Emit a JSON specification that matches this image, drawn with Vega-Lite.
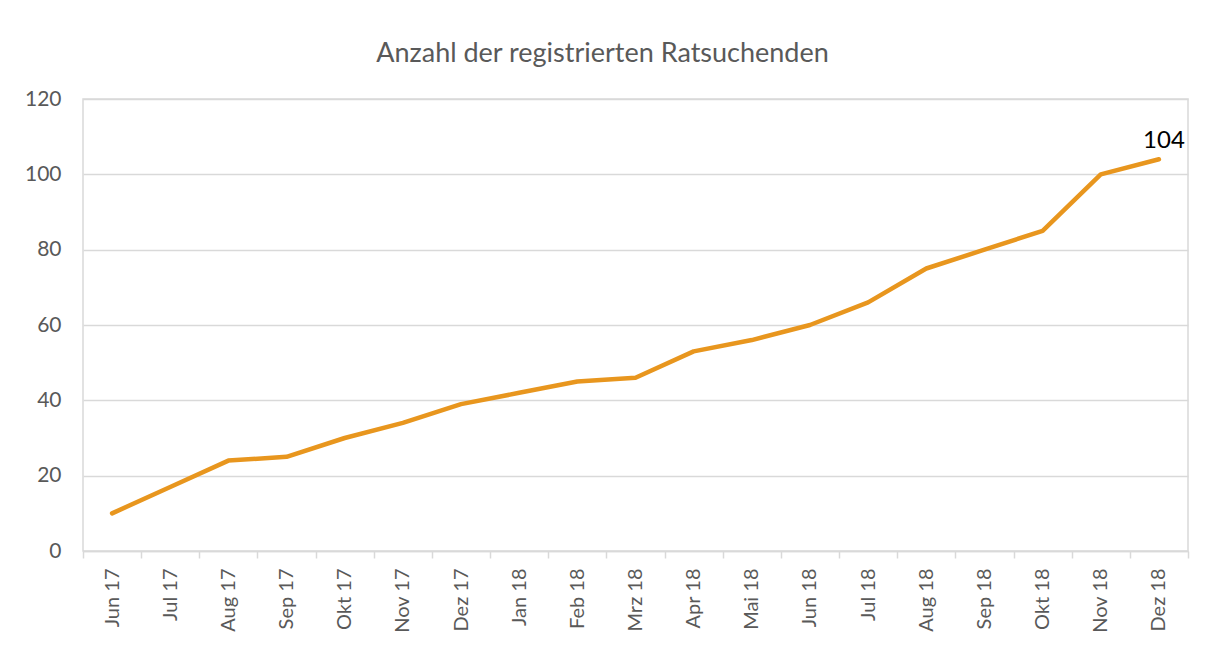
{
  "$schema": "https://vega.github.io/schema/vega-lite/v6.json",
  "autosize": "none",
  "width": 1105,
  "height": 452,
  "padding": {"left": 83, "top": 99, "right": 24, "bottom": 95},
  "background": "white",
  "title": {
    "text": "Anzahl der registrierten Ratsuchenden",
    "font": "Lato",
    "fontSize": 27,
    "fontWeight": "normal",
    "color": "#595959",
    "anchor": "middle",
    "dx": -33,
    "offset": 20
  },
  "config": {
    "view": {"stroke": "#d9d9d9", "strokeWidth": 1.5},
    "font": "Lato"
  },
  "data": {
    "values": [
      {"monat": "Jun 17", "anzahl": 10},
      {"monat": "Jul 17", "anzahl": 17},
      {"monat": "Aug 17", "anzahl": 24},
      {"monat": "Sep 17", "anzahl": 25},
      {"monat": "Okt 17", "anzahl": 30},
      {"monat": "Nov 17", "anzahl": 34},
      {"monat": "Dez 17", "anzahl": 39},
      {"monat": "Jan 18", "anzahl": 42},
      {"monat": "Feb 18", "anzahl": 45},
      {"monat": "Mrz 18", "anzahl": 46},
      {"monat": "Apr 18", "anzahl": 53},
      {"monat": "Mai 18", "anzahl": 56},
      {"monat": "Jun 18", "anzahl": 60},
      {"monat": "Jul 18", "anzahl": 66},
      {"monat": "Aug 18", "anzahl": 75},
      {"monat": "Sep 18", "anzahl": 80},
      {"monat": "Okt 18", "anzahl": 85},
      {"monat": "Nov 18", "anzahl": 100},
      {"monat": "Dez 18", "anzahl": 104}
    ]
  },
  "encoding": {
    "x": {
      "field": "monat",
      "type": "ordinal",
      "sort": null,
      "scale": {"paddingInner": 0, "paddingOuter": 0},
      "axis": {
        "title": null,
        "labelAngle": -90,
        "labelFontSize": 20,
        "labelColor": "#595959",
        "labelPadding": 10,
        "tickBand": "extent",
        "tickColor": "#d9d9d9",
        "tickSize": 7,
        "tickWidth": 1.5,
        "domainColor": "#d9d9d9",
        "domainWidth": 1.5,
        "grid": false
      }
    },
    "y": {
      "field": "anzahl",
      "type": "quantitative",
      "scale": {"domain": [0, 120], "nice": false},
      "axis": {
        "title": null,
        "values": [0, 20, 40, 60, 80, 100, 120],
        "labelFontSize": 21,
        "labelColor": "#595959",
        "labelPadding": 22,
        "ticks": false,
        "domain": false,
        "gridColor": "#d9d9d9",
        "gridWidth": 1.5
      }
    }
  },
  "layer": [
    {
      "mark": {"type": "line", "color": "#E8961E", "strokeWidth": 4.5, "strokeCap": "round", "strokeJoin": "round"}
    },
    {
      "transform": [{"filter": "datum.monat === 'Dez 18'"}],
      "mark": {"type": "text", "align": "center", "baseline": "alphabetic", "dx": 5, "dy": -11, "fontSize": 24, "color": "#000000"},
      "encoding": {"text": {"field": "anzahl", "type": "quantitative"}}
    }
  ]
}
